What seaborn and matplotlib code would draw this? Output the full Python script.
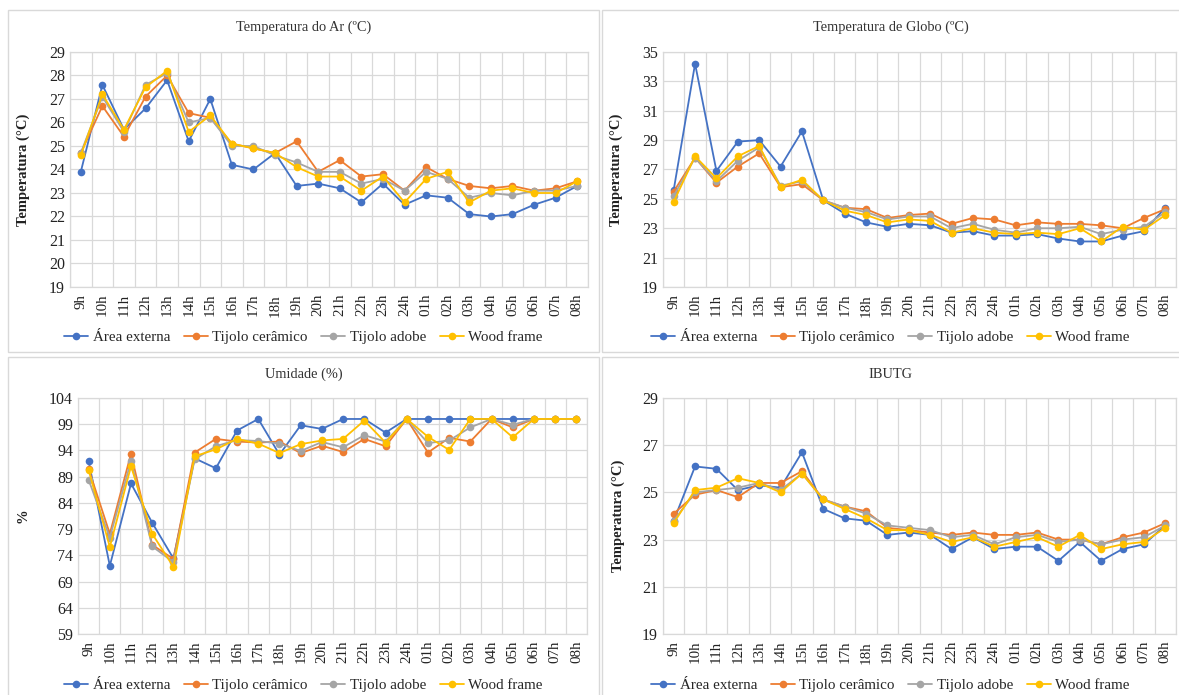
import numpy as np
import pandas as pd
import matplotlib
matplotlib.use('Agg')
import matplotlib.pyplot as plt
from matplotlib.patches import Rectangle
from matplotlib.lines import Line2D
import seaborn as sns

# --- dados ---
horas = ['9h', '10h', '11h', '12h', '13h', '14h', '15h', '16h', '17h', '18h', '19h', '20h',
         '21h', '22h', '23h', '24h', '01h', '02h', '03h', '04h', '05h', '06h', '07h', '08h']
series = ['Área externa', 'Tijolo cerâmico', 'Tijolo adobe', 'Wood frame']
cores = ['#4472C4', '#ED7D31', '#A5A5A5', '#FFC000']

# Temperatura do Ar
ar_externa = [23.9, 27.6, 25.7, 26.6, 27.8, 25.2, 27.0, 24.2, 24.0, 24.7, 23.3, 23.4,
              23.2, 22.6, 23.4, 22.5, 22.9, 22.8, 22.1, 22.0, 22.1, 22.5, 22.8, 23.3]
ar_ceramico = [24.7, 26.7, 25.4, 27.1, 28.0, 26.4, 26.2, 25.1, 24.9, 24.7, 25.2, 23.9,
               24.4, 23.7, 23.8, 23.1, 24.1, 23.6, 23.3, 23.2, 23.3, 23.1, 23.2, 23.5]
ar_adobe = [24.7, 27.1, 25.6, 27.6, 28.1, 26.0, 26.2, 25.0, 25.0, 24.6, 24.3, 23.9,
            23.9, 23.4, 23.6, 23.1, 23.9, 23.6, 22.8, 23.0, 22.9, 23.1, 23.1, 23.3]
ar_wood = [24.6, 27.2, 25.7, 27.5, 28.2, 25.6, 26.3, 25.1, 24.9, 24.7, 24.1, 23.7,
           23.7, 23.1, 23.7, 22.6, 23.6, 23.9, 22.6, 23.1, 23.2, 23.0, 23.0, 23.5]

# Temperatura de Globo
globo_externa = [25.6, 34.2, 26.9, 28.9, 29.0, 27.2, 29.6, 24.9, 24.0, 23.4, 23.1, 23.3,
                 23.2, 22.7, 22.8, 22.5, 22.5, 22.6, 22.3, 22.1, 22.1, 22.5, 22.8, 24.4]
globo_ceramico = [25.5, 27.8, 26.1, 27.2, 28.1, 25.8, 26.0, 24.9, 24.4, 24.3, 23.7, 23.9,
                  24.0, 23.3, 23.7, 23.6, 23.2, 23.4, 23.3, 23.3, 23.2, 23.0, 23.7, 24.3]
globo_adobe = [25.2, 27.8, 26.2, 27.6, 28.5, 25.9, 26.2, 24.9, 24.4, 24.1, 23.6, 23.8,
               23.8, 23.0, 23.3, 22.9, 22.7, 23.0, 23.0, 23.1, 22.6, 22.9, 23.1, 24.1]
globo_wood = [24.8, 27.9, 26.4, 27.9, 28.6, 25.8, 26.3, 24.9, 24.2, 23.9, 23.4, 23.6,
              23.5, 22.7, 23.0, 22.7, 22.6, 22.7, 22.6, 23.0, 22.1, 23.1, 22.9, 23.9]

# Umidade
umid_externa = [92.0, 72.0, 87.7, 80.2, 73.4, 92.5, 90.6, 97.8, 100.0, 93.2, 98.8, 98.1,
                100.0, 100.0, 97.4, 100.0, 100.0, 100.0, 100.0, 100.0, 100.0, 100.0, 100.0, 100.0]
umid_ceramico = [90.5, 78.1, 93.4, 76.0, 73.3, 93.6, 96.2, 95.7, 95.5, 95.7, 93.5, 94.9,
                 93.7, 96.2, 94.8, 100.0, 93.6, 96.4, 95.7, 100.0, 98.4, 100.0, 100.0, 100.0]
umid_adobe = [88.4, 77.4, 92.0, 75.7, 72.7, 92.3, 94.8, 96.0, 95.8, 95.3, 93.9, 95.6,
              94.6, 96.9, 95.7, 100.0, 95.4, 95.9, 98.4, 100.0, 98.9, 100.0, 100.0, 100.0]
umid_wood = [90.3, 75.6, 91.0, 78.1, 71.8, 92.9, 94.2, 96.2, 95.3, 93.5, 95.2, 95.9,
             96.2, 99.7, 95.5, 100.0, 96.6, 94.1, 100.0, 100.0, 96.5, 100.0, 100.0, 100.0]

# IBUTG
ibutg_externa = [23.8, 26.1, 26.0, 25.1, 25.3, 25.2, 26.7, 24.3, 23.9, 23.8, 23.2, 23.3,
                 23.2, 22.6, 23.1, 22.6, 22.7, 22.7, 22.1, 22.9, 22.1, 22.6, 22.8, 23.6]
ibutg_ceramico = [24.1, 24.9, 25.1, 24.8, 25.4, 25.4, 25.9, 24.7, 24.4, 24.2, 23.5, 23.4,
                  23.3, 23.2, 23.3, 23.2, 23.2, 23.3, 23.0, 23.0, 22.8, 23.1, 23.3, 23.7]
ibutg_adobe = [23.8, 25.0, 25.1, 25.2, 25.4, 25.1, 25.8, 24.7, 24.4, 24.1, 23.6, 23.5,
               23.4, 23.1, 23.2, 22.8, 23.1, 23.2, 22.9, 23.0, 22.8, 23.0, 23.1, 23.6]
ibutg_wood = [23.7, 25.1, 25.2, 25.6, 25.4, 25.0, 25.8, 24.7, 24.3, 23.9, 23.4, 23.4,
              23.2, 22.9, 23.1, 22.7, 22.9, 23.1, 22.7, 23.2, 22.6, 22.8, 22.9, 23.5]

paineis = [
    ('Temperatura do Ar (ºC)', 'Temperatura (°C)', [ar_externa, ar_ceramico, ar_adobe, ar_wood], (19, 29), 1),
    ('Temperatura de Globo (ºC)', 'Temperatura (°C)', [globo_externa, globo_ceramico, globo_adobe, globo_wood], (19, 35), 2),
    ('Umidade (%)', '%', [umid_externa, umid_ceramico, umid_adobe, umid_wood], (59, 104), 5),
    ('IBUTG', 'Temperatura (°C)', [ibutg_externa, ibutg_ceramico, ibutg_adobe, ibutg_wood], (19, 29), 2),
]

# --- estilo ---
sns.set_style('whitegrid')
plt.rcParams['font.family'] = ['Liberation Serif', 'DejaVu Serif']
plt.rcParams['axes.unicode_minus'] = False

W, H = 1179, 695
fig = plt.figure(figsize=(W / 100, H / 100), dpi=100)

# posições em pixels: (esq, dir, topo, base) da área de plotagem, e caixa do gráfico
areas = [(70, 588, 52, 287), (663, 1176, 52, 287), (78, 587, 398, 634), (663, 1176, 398, 634)]
caixas = [(8, 10, 599, 352), (602, 10, 1185, 352), (8, 357, 599, 700), (602, 357, 1185, 700)]
ylabel_x = [30, 623, 30, 625]
grid_cor = '#D9D9D9'

for i, (titulo, ylab, valores, (ymin, ymax), passo) in enumerate(paineis):
    x0, y0, x1, y1 = caixas[i]
    fig.add_artist(Rectangle((x0 / W, 1 - y1 / H), (x1 - x0) / W, (y1 - y0) / H,
                             transform=fig.transFigure, fill=False, edgecolor=grid_cor, linewidth=1))
    l, r, t, b = areas[i]
    ax = fig.add_axes([l / W, 1 - b / H, (r - l) / W, (b - t) / H])

    df = pd.DataFrame({
        'hora': horas * len(series),
        'serie': np.repeat(series, len(horas)),
        'valor': np.concatenate(valores),
    })
    sns.lineplot(data=df, x='hora', y='valor', hue='serie', hue_order=series, palette=cores,
                 marker='o', markersize=5.5, markeredgewidth=0, linewidth=1.3,
                 sort=False, legend=False, ax=ax)

    ax.set_xlim(-0.5, len(horas) - 0.5)
    ax.set_ylim(ymin, ymax)
    ax.set_yticks(np.arange(ymin, ymax + 0.1, passo))
    ax.set_xticks(range(len(horas)))
    ax.set_xticklabels(horas, rotation=90)
    ax.set_xticks(np.arange(-0.5, len(horas), 1), minor=True)
    ax.grid(False)
    ax.grid(True, which='major', axis='y', color=grid_cor, linewidth=0.9)
    ax.grid(True, which='minor', axis='x', color=grid_cor, linewidth=0.9)
    ax.tick_params(axis='y', which='both', length=0, labelsize=11.5, colors='#222222')
    ax.tick_params(axis='x', which='both', length=0, labelsize=10.8, colors='#222222', pad=5)
    for s in ax.spines.values():
        s.set_color(grid_cor)
        s.set_linewidth(0.9)
    ax.set_xlabel('')
    ax.set_ylabel(ylab, fontsize=10.5, fontweight='bold', color='#222222')
    ax.yaxis.set_label_coords((ylabel_x[i] - l) / (r - l), 0.5)

    cx = (x0 + min(x1, W)) / 2
    fig.text(cx / W, 1 - (y0 + 17) / H, titulo, ha='center', va='center', fontsize=10.4, color='#333333')

    handles = [Line2D([], [], color=c, marker='o', markersize=5.5, markeredgewidth=0, linewidth=1.3)
               for c in cores]
    fig.legend(handles, series, loc='center', bbox_to_anchor=(cx / W, 1 - (y1 - 15) / H),
               ncol=4, frameon=False, fontsize=10.8, handlelength=1.6, handletextpad=0.3,
               columnspacing=0.9)

fig.savefig('out.png', dpi=100)
